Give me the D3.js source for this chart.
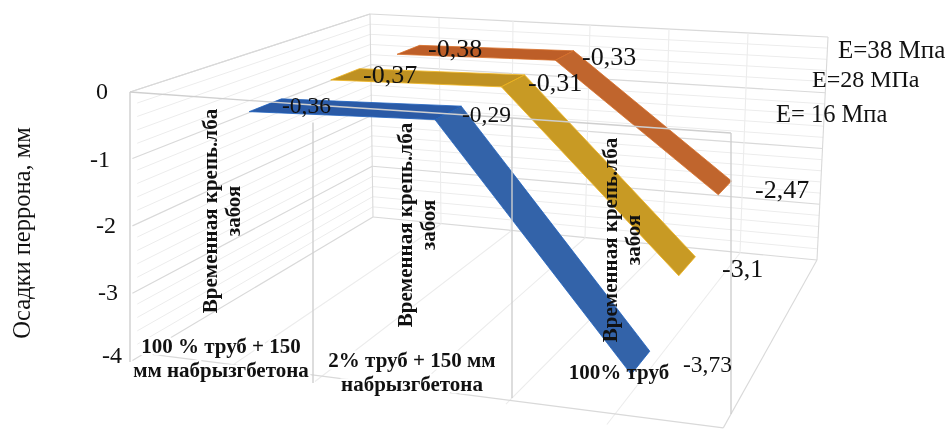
<!DOCTYPE html>
<html><head><meta charset="utf-8">
<script src="https://cdnjs.cloudflare.com/ajax/libs/d3/7.8.5/d3.min.js"></script>
<style>html,body{margin:0;padding:0;background:#fff}svg{display:block;filter:blur(.45px)}
text{font-family:"Liberation Serif",serif;fill:#111}</style></head><body>
<svg id="c" width="946" height="429"></svg>
<script>
// ---- data ----
const categories = ["100 % труб + 150 мм набрызгбетона", "2% труб + 150 мм набрызгбетона", "Временная крепь"];
const seriesNames = ["E= 16 Мпа", "E=28 МПа", "E=38 Мпа"];
const seriesE16 = [-0.36, -0.29, -3.73];
const seriesE28 = [-0.37, -0.31, -3.1];
const seriesE38 = [-0.38, -0.33, -2.47];
const yTicks = [0, -1, -2, -3, -4];
const yTitle = "Осадки перрона, мм";
const supportLines = ["Временная крепь.лба", "забоя"];
const catLabelLines = [["100 % труб + 150", "мм набрызгбетона"], ["2% труб + 150 мм", "набрызгбетона"], ["100% труб"]];

// ---- layout ----
const nodes = [0, .5, 1, 1.5, 2, 2.5, 3];
const sc = r => d3.scaleLinear(nodes, r);
const frontX = sc([130, 221, 313, 412, 512, 615, 731]);
const frontTopY = sc([92, 98, 105, 111, 118, 125, 133]);
const frontBotY = sc([362, 373, 383, 391, 398, 414, 414]);
const backTopX = sc([370, 439, 513, 590, 669, 748, 828]);
const backBotX = sc([373, 441, 511, 585, 663, 740, 817]);
const backTopY = sc([14, 18, 21, 25, 29, 33, 37]);
const backBotY = sc([217, 224, 231, 238, 246, 253, 260]);
const vScale = d3.scaleLinear([0, -4], [0, 1]);
const catScale = d3.scalePoint(categories, [.5, 2.5]);
const lerp = d3.interpolateNumber;
function project(c, value, w) {
  const v = vScale(value);
  const fx = frontX(c), fy = lerp(frontTopY(c), frontBotY(c))(v);
  const bx = lerp(backTopX(c), backBotX(c))(v), by = lerp(backTopY(c), backBotY(c))(v);
  return [lerp(fx, bx)(w), lerp(fy, by)(w)];
}
const svg = d3.select("#c");
const line = d3.line();
const gridG = svg.append("g").attr("fill", "none");
const gl = (a, b, col, sw) => gridG.append("path").attr("d", line([a, b])).attr("stroke", col).attr("stroke-width", sw);
const minor = "#ececec", major = "#d9d9d9";
const vals = d3.range(0, 21).map(i => -i * 0.2);

// left wall + back wall horizontals
vals.forEach((val, i) => {
  const m = i % 5 === 0;
  gl(project(0, val, m ? 0.01 : 0.03), project(0, val, 1), m ? major : minor, m ? 1.2 : 1);
  gl(project(0, val, 1), project(3, val, 1), m ? major : minor, m ? 1.2 : 1);
});
// back wall verticals
nodes.forEach(c => gl(project(c, 0, 1), project(c, -4, 1), c === 0 || c === 3 ? major : minor, 1.1));
// floor depth lines
const frontW = d3.scaleLinear([0, 3], [.06, -.09]);
nodes.forEach(c => { if (c > 0) gl(project(c, -4, frontW(c)), project(c, -4, 1), c === 3 ? major : minor, 1.1); });
gl(project(0, -4, frontW(0)), project(3, -4, frontW(3)), major, 1.2);
// top edges
gl(project(0, 0, 0), project(0, 0, 1), major, 1.2);

// ---- ribbons ----
const ribbons = [
  {vals: seriesE38, w: [.807, .91], flat: "#bd5e28", slope: "#c0652d", edge: "#d8702a"},
  {vals: seriesE28, w: [.503, .634], flat: "#bf9122", slope: "#c89a24", edge: "#f0b41c"},
  {vals: seriesE16, w: [.129, .277], flat: "#2a5aa6", slope: "#3363a9", edge: "#1c5fbe"}
];
const ribbonG = svg.append("g");
ribbons.forEach(r => {
  const pts = categories.map((c, i) => ({c: catScale(c) ?? 1.5, v: r.vals[i]}));
  d3.pairs(pts).forEach(([a, b], i) => {
    ribbonG.append("path")
      .attr("d", line([project(a.c, a.v, r.w[0]), project(a.c, a.v, r.w[1]), project(b.c, b.v, r.w[1]), project(b.c, b.v, r.w[0])]) + "Z")
      .attr("fill", i ? r.slope : r.flat).attr("stroke", r.edge).attr("stroke-width", .8);
  });
});

// ---- front frame, drawn over the ribbons ----
const frontG = svg.append("g").attr("fill", "none").attr("stroke", "#cfcfcf").attr("stroke-width", 1.4);
frontG.append("path").attr("d", line([0, 1, 2, 3].map(c => project(c, 0, 0))));
[0, 1, 2, 3].forEach(c => frontG.append("path").attr("d", line([project(c, c === 1 ? -.25 : 0, 0), project(c, -4, 0)])));

// ---- axis text ----
const tickX = [108, 110, 116, 118, 122];
const tickY = [99, 167, 233, 300, 363];
const t = svg.append("g").attr("font-size", 24);
yTicks.forEach((v, i) => t.append("text").attr("x", tickX[i]).attr("y", tickY[i]).attr("text-anchor", "end").text(String(v)));
svg.append("text").attr("transform", "translate(30,233) rotate(-90)").attr("text-anchor", "middle").attr("font-size", 24.5).text(yTitle);

// rotated support labels
const supportAt = [[217, 211], [412, 225], [617, 240]];
supportAt.forEach(([x, y]) => {
  const g = svg.append("g").attr("transform", `translate(${x},${y}) rotate(-90)`).attr("font-size", 21).attr("font-weight", "bold").attr("text-anchor", "middle");
  supportLines.forEach((s, i) => g.append("text").attr("y", i * 23).text(s));
});

// category labels
const catAt = [[221, 353], [412, 367], [619, 379]];
catLabelLines.forEach((lines, k) => lines.forEach((s, i) => {
  const e = svg.append("text").attr("x", catAt[k][0]).attr("y", catAt[k][1] + i * 24).attr("text-anchor", "middle")
    .attr("font-size", 21).attr("font-weight", "bold").text(s);
  if (k < 2) e.attr("stroke", "#fff").attr("stroke-width", 5).attr("paint-order", "stroke").attr("stroke-linejoin", "round");
}));

// data labels
const labelAt = [
  {vals: seriesE16, pos: [[282, 113], [462, 122], [683, 372]], size: 23.5},
  {vals: seriesE28, pos: [[363, 83], [528, 91], [722, 277]], size: 26},
  {vals: seriesE38, pos: [[428, 57], [582, 65], [755, 198]], size: 26}
];
labelAt.forEach(l => l.vals.forEach((v, i) => svg.append("text").attr("x", l.pos[i][0]).attr("y", l.pos[i][1])
  .attr("font-size", l.size).text(String(v).replace(".", ","))));

// series names
const nameAt = [[776, 122], [812, 87], [838, 58]];
const nameSize = [24.5, 24, 25];
seriesNames.forEach((s, i) => svg.append("text").attr("x", nameAt[i][0]).attr("y", nameAt[i][1]).attr("font-size", nameSize[i]).text(s));
</script></body></html>
